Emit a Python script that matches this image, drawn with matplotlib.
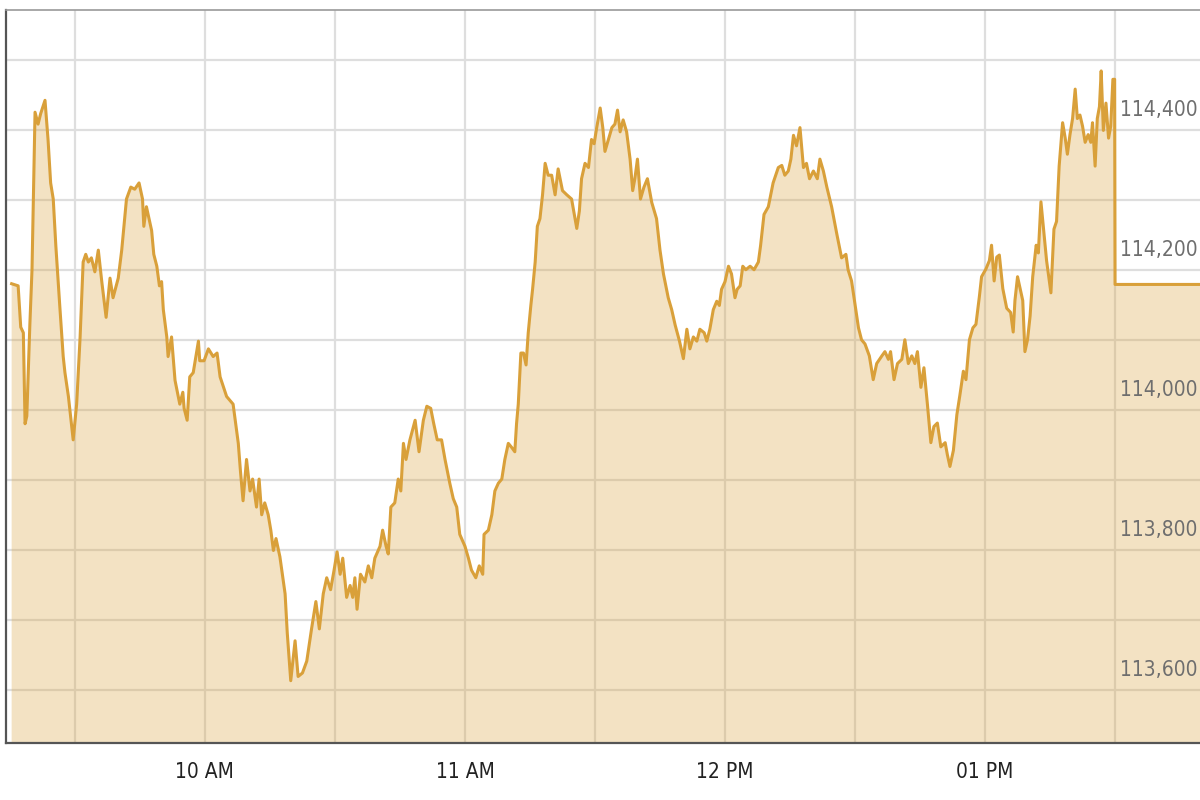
import matplotlib
matplotlib.use("Agg")
import matplotlib.pyplot as plt

# minutes after 09:00 and index level
minutes = [
    15.4, 16.9, 17.5, 18.1, 18.5, 18.9, 19.6, 20.1, 20.8, 21.5, 22.1, 23.1, 23.8, 24.4, 25.0,
    25.6, 26.5, 27.3, 27.7, 28.5, 29.6, 30.4, 31.2, 31.9, 32.5, 33.1, 33.8, 34.6, 35.4, 36.2,
    37.2, 38.1, 38.8, 40.0, 40.8, 41.9, 42.9, 43.8, 44.8, 45.6, 45.9, 46.5, 47.7, 48.2, 48.9,
    49.5, 50.0, 50.4, 51.2, 51.5, 52.3, 53.1, 54.2, 54.9, 55.2, 55.9, 56.5, 57.3, 58.5, 58.8,
    59.8, 60.8, 61.9, 62.8, 63.5, 65.0, 66.5, 67.7, 68.2, 68.8, 69.6, 70.4, 71.0, 71.9, 72.5,
    73.1, 73.8, 74.6, 75.2, 75.8, 76.4, 77.3, 78.5, 79.0, 79.8, 80.8, 81.5, 82.5, 83.5, 84.6,
    85.6, 86.4, 87.3, 88.1, 89.0, 89.8, 90.5, 91.2, 91.8, 92.7, 93.5, 94.1, 94.6, 95.1, 95.9,
    96.9, 97.7, 98.5, 99.2, 100.4, 101.0, 101.8, 102.3, 102.9, 103.8, 104.6, 105.2, 105.8, 106.4, 107.3,
    108.5, 109.4, 110.4, 111.2, 112.1, 112.8, 113.6, 114.6, 115.4, 116.5, 117.3, 118.1, 118.8, 120.0, 120.8,
    121.5, 122.5, 123.3, 124.1, 124.4, 125.4, 126.2, 126.9, 127.7, 128.5, 129.2, 130.0, 130.8, 131.5, 131.9,
    132.3, 132.9, 133.5, 134.1, 134.6, 135.2, 135.6, 136.2, 136.7, 137.3, 137.9, 138.5, 139.2, 140.0, 140.8,
    141.5, 142.5, 143.5, 144.6, 145.8, 146.4, 146.9, 147.7, 148.5, 149.2, 149.8, 150.4, 151.2, 151.8, 152.3,
    153.1, 153.9, 154.6, 155.2, 155.8, 156.5, 157.3, 158.1, 158.7, 159.2, 159.8, 160.5, 161.3, 162.1, 163.1,
    164.2, 165.0, 165.8, 166.9, 167.7, 168.5, 169.5, 170.4, 171.2, 171.9, 172.7, 173.5, 174.2, 175.2, 175.8,
    176.5, 177.3, 178.1, 178.7, 179.2, 180.0, 180.8, 181.5, 182.3, 182.8, 183.5, 184.1, 184.8, 185.8, 186.7,
    187.7, 188.2, 189.0, 190.0, 191.1, 192.3, 193.1, 193.8, 194.6, 195.2, 195.8, 196.5, 197.3, 198.1, 198.8,
    199.5, 200.4, 201.3, 201.9, 202.7, 203.5, 204.6, 205.8, 206.9, 207.9, 208.4, 209.2, 210.0, 210.8, 211.5,
    212.3, 213.3, 214.2, 215.0, 216.2, 216.9, 217.7, 218.2, 219.0, 219.8, 220.8, 221.5, 222.3, 223.1, 223.8,
    224.4, 225.2, 225.9, 226.7, 227.5, 228.2, 229.0, 229.8, 230.8, 231.3, 231.9, 232.7, 233.5, 234.2, 235.0,
    235.6, 236.4, 237.2, 237.9, 238.7, 239.2, 240.2, 241.0, 241.5, 242.1, 242.7, 243.3, 244.1, 245.0, 245.9,
    246.5, 246.9, 247.5, 248.1, 248.7, 249.2, 249.8, 250.4, 251.0, 251.8, 252.3, 252.9, 253.5, 254.2, 255.2,
    255.9, 256.5, 257.1, 257.9, 258.5, 259.0, 259.6, 260.2, 260.8, 261.3, 261.9, 262.5, 263.1, 263.8, 264.4,
    264.8, 265.4, 265.9, 266.4, 266.8, 267.3, 267.9, 268.5, 269.0, 269.5, 269.9, 270.0, 290.0,
]
price = [
    114180, 114177, 114118, 114110, 113980, 113991, 114121, 114200, 114425, 114408, 114423, 114442, 114386, 114324, 114301,
    114234, 114149, 114076, 114053, 114019, 113957, 114008, 114104, 114211, 114222, 114211, 114217, 114197, 114228, 114183,
    114132, 114188, 114160, 114188, 114228, 114301, 114318, 114315, 114324, 114301, 114262, 114290, 114256, 114222, 114205,
    114177, 114183, 114143, 114104, 114076, 114104, 114042, 114008, 114025, 114002, 113985, 114047, 114053, 114098, 114070,
    114070, 114087, 114076, 114081, 114047, 114019, 114008, 113952, 113912, 113870, 113929, 113884, 113901, 113861, 113901,
    113850, 113867, 113850, 113828, 113799, 113816, 113790, 113737, 113681, 113613, 113670, 113619, 113624, 113641, 113687,
    113726, 113687, 113737, 113760, 113743, 113771, 113797, 113765, 113788, 113732, 113749, 113732, 113760, 113715, 113765,
    113754, 113777, 113760, 113788, 113805, 113828, 113805, 113794, 113861, 113867, 113901, 113884, 113952, 113929, 113957,
    113985, 113940, 113985, 114005, 114002, 113980, 113957, 113957, 113929, 113895, 113873, 113861, 113822, 113805, 113788,
    113771, 113760, 113777, 113765, 113822, 113828, 113850, 113884, 113895, 113901, 113929, 113952, 113946, 113940, 113980,
    114008, 114081, 114081, 114064, 114110, 114149, 114172, 114211, 114262, 114273, 114307, 114352, 114335, 114335, 114307,
    114344, 114313, 114307, 114301, 114259, 114284, 114330, 114352, 114346, 114386, 114380, 114403, 114431, 114403, 114369,
    114386, 114403, 114408, 114428, 114397, 114414, 114397, 114358, 114313, 114330, 114358, 114301, 114318, 114330, 114296,
    114273, 114228, 114194, 114160, 114143, 114121, 114098, 114073, 114115, 114087, 114104, 114098, 114115, 114110, 114098,
    114115, 114143, 114155, 114149, 114172, 114183, 114205, 114194, 114160, 114172, 114177, 114205, 114200, 114205, 114200,
    114211, 114234, 114279, 114290, 114324, 114346, 114349, 114335, 114341, 114358, 114392, 114377, 114403, 114346, 114352,
    114330, 114341, 114330, 114358, 114341, 114318, 114290, 114251, 114217, 114222, 114200, 114184, 114151, 114117, 114100,
    114094, 114077, 114043, 114066, 114077, 114083, 114072, 114083, 114043, 114066, 114072, 114100, 114066, 114077, 114066,
    114083, 114032, 114060, 114008, 113953, 113976, 113981, 113947, 113953, 113936, 113919, 113942, 113993, 114021, 114055,
    114043, 114100, 114117, 114122, 114162, 114190, 114201, 114213, 114235, 114184, 114218, 114221, 114173, 114145, 114139,
    114111, 114156, 114190, 114173, 114156, 114083, 114100, 114134, 114190, 114235, 114224, 114297, 114258, 114213, 114167,
    114258, 114269, 114348, 114410, 114388, 114365, 114393, 114416, 114458, 114416, 114421, 114405, 114382, 114393, 114382,
    114410, 114348, 114416, 114433, 114484, 114399, 114438, 114388, 114405, 114472, 114472, 114179, 114179,
]

x_ticks = [60, 120, 180, 240]
x_labels = ["10 AM", "11 AM", "12 PM", "01 PM"]
y_label_values = [113600, 113800, 114000, 114200, 114400]

line_col = "#D9A03A"
plt.rcParams["font.family"] = ["DejaVu Sans"]
plt.rcParams["font.stretch"] = "condensed"

fig = plt.figure(figsize=(12, 8), dpi=100)
ax = fig.add_axes([0.005, 0.07125, 0.995, 0.91625])

ax.plot(minutes, price, color=line_col, linewidth=2.2, zorder=3)
ax.fill_between(minutes, price, 113000, color=line_col, alpha=0.3, linewidth=0, zorder=2)

ax.set_xlim(14.1, 289.6)
ax.set_ylim(113524, 114571)

# grid every half hour / every 100 points
ax.set_xticks(range(30, 300, 30), minor=True)
ax.set_yticks(range(113600, 114600, 100))
ax.set_xticks(x_ticks)
ax.set_xticklabels(x_labels, fontsize=15, color="#222222", fontstretch="condensed")
ax.set_yticklabels([])
ax.tick_params(axis="x", which="both", length=0, pad=14)
ax.tick_params(axis="y", length=0)
ax.grid(True, which="both", axis="x", color="#DEDEDE", linewidth=1.6, zorder=1)
ax.grid(True, axis="y", color="#DEDEDE", linewidth=1.6, zorder=1)
ax.set_axisbelow(True)

for v in y_label_values:
    ax.annotate(f"{v:,}", xy=(1.0, v), xycoords=("axes fraction", "data"),
                xytext=(-2, 14), textcoords="offset points",
                ha="right", va="center", fontsize=15, color="#6E6E6E",
                fontstretch="condensed", zorder=4)

for side in ["left", "bottom"]:
    ax.spines[side].set_color("#555555")
    ax.spines[side].set_linewidth(1.6)
ax.spines["top"].set_color("#9A9A9A")
ax.spines["top"].set_linewidth(1.2)
ax.spines["right"].set_visible(False)

plt.savefig("out.png", dpi=100)
plt.close()
